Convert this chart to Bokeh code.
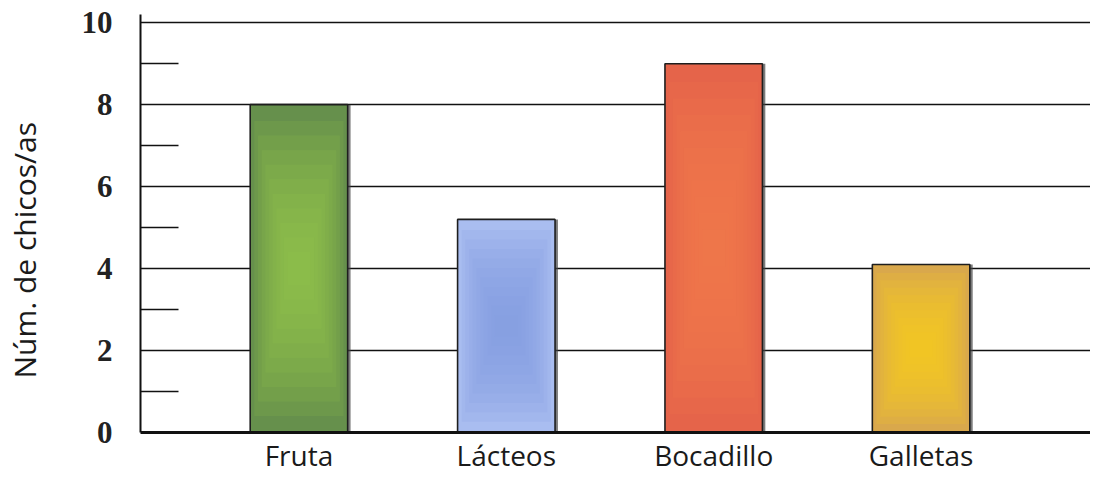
from bokeh.plotting import figure
from bokeh.models import Range1d, FixedTicker, Title, ColumnDataSource
from bokeh.embed import file_html
from bokeh.resources import INLINE

# ---- data ----
categories = ["Fruta", "Lácteos", "Bocadillo", "Galletas"]
values = [8, 5.2, 9, 4.1]
edge_colors = ["#66904c", "#a9bdf0", "#e5644a", "#d9a84c"]
center_colors = ["#94c44a", "#819be2", "#f27a48", "#f6cc22"]
y_major_ticks = [0, 2, 4, 6, 8, 10]
y_minor_ticks = [1, 3, 5, 7, 9]
y_axis_title = "Núm. de chicos/as"

positions = list(range(len(categories)))
bar_width = 0.47

p = figure(width=1090, height=476, output_backend="svg", toolbar_location=None,
           x_range=Range1d(-0.764, 3.817), y_range=Range1d(0, 10.2),
           min_border_left=140, min_border_right=0, min_border_top=14,
           min_border_bottom=40)
p.outline_line_color = None
p.background_fill_color = "white"
p.xgrid.grid_line_color = None
p.ygrid.ticker = FixedTicker(ticks=y_major_ticks)
p.ygrid.grid_line_color = "#111111"
p.ygrid.grid_line_width = 1.6

# shadow
shadow = ColumnDataSource(dict(x=[x + 0.014 for x in positions], top=values))
p.vbar(x="x", top="top", bottom=-0.06, width=bar_width, source=shadow,
       fill_color="#444444", fill_alpha=0.7, line_color=None)

# base bars
src = ColumnDataSource(dict(x=positions, top=values, color=edge_colors))
p.vbar(x="x", top="top", bottom=0, width=bar_width, source=src,
       fill_color="color", line_color=None)

# soft glow layers
n_layers = 10
for k in range(n_layers):
    s = 0.1 + 0.8 * k / (n_layers - 1)
    half = [v / 2 * (1 - s) for v in values]
    d = dict(x=positions,
             top=[v / 2 + h for v, h in zip(values, half)],
             bottom=[v / 2 - h for v, h in zip(values, half)],
             color=center_colors)
    p.vbar(x="x", top="top", bottom="bottom", width=bar_width * (1 - 0.85 * s),
           source=ColumnDataSource(d), fill_color="color", fill_alpha=0.16,
           line_color=None)

# outlines
p.vbar(x="x", top="top", bottom=0, width=bar_width, source=src,
       fill_color=None, line_color="#1e1e1e", line_width=1.6)

# axes
xa = p.xaxis[0]
xa.ticker = FixedTicker(ticks=positions)
xa.major_label_overrides = {i: c for i, c in zip(positions, categories)}
xa.major_tick_line_color = None
xa.minor_tick_line_color = None
xa.major_tick_out = 0
xa.major_tick_in = 0
xa.minor_tick_out = 0
xa.minor_tick_in = 0
xa.axis_line_width = 3
xa.axis_line_color = "#111111"
xa.major_label_text_font = "Open Sans"
xa.major_label_text_font_size = "28px"
xa.major_label_text_color = "#1a1a1a"
xa.major_label_standoff = 3

ya = p.yaxis[0]
ya.ticker = FixedTicker(ticks=y_major_ticks, minor_ticks=y_minor_ticks)
ya.major_tick_out = 0
ya.major_tick_in = 0
ya.minor_tick_in = 38
ya.minor_tick_out = 0
ya.minor_tick_line_width = 1.6
ya.minor_tick_line_color = "#111111"
ya.axis_line_width = 2
ya.axis_line_color = "#111111"
ya.major_label_text_font = "Liberation Serif"
ya.major_label_text_font_style = "bold"
ya.major_label_text_font_size = "31px"
ya.major_label_text_color = "#222222"
ya.major_label_standoff = 28

# spacer between tick labels and the axis title
p.add_layout(Title(text=" ", text_font_size="12px", standoff=18), "left")
p.add_layout(Title(text=y_axis_title, align="left", offset=54, standoff=0,
                   text_font="Open Sans", text_font_size="30px",
                   text_font_style="normal", text_color="#1a1a1a"), "left")

open("out.html", "w").write(file_html(p, INLINE))
